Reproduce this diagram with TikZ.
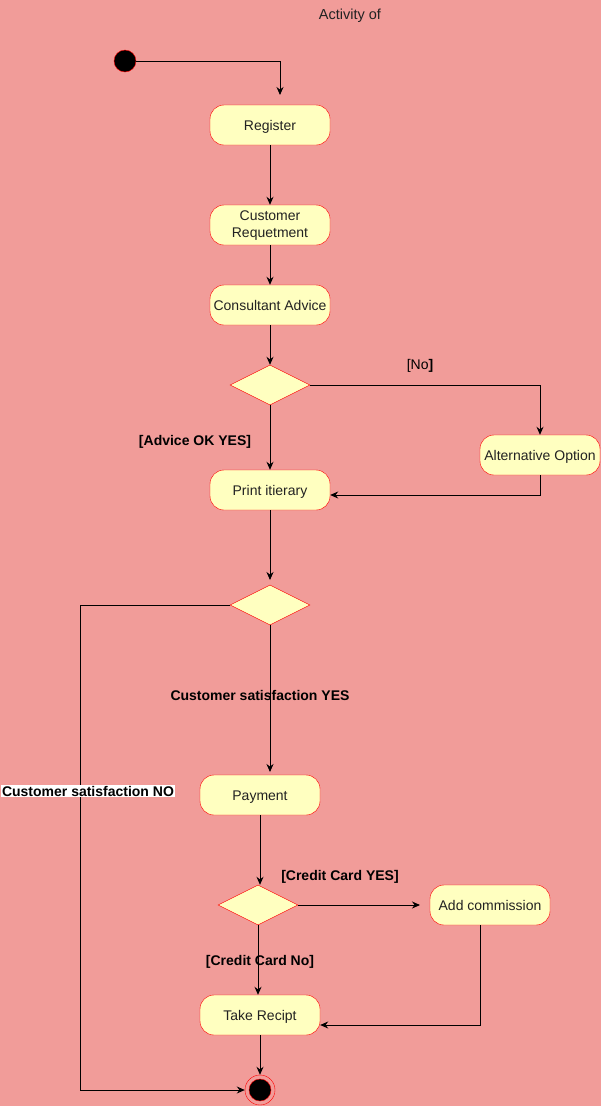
\documentclass[tikz,border=0pt]{standalone}
\usepackage{fontspec}
\setmainfont{Liberation Sans}
\usetikzlibrary{shapes.geometric,arrows.meta,positioning}
\definecolor{bgc}{HTML}{F19C99}
\definecolor{boxfill}{HTML}{FFFFC0}
\definecolor{txt}{HTML}{222222}
\begin{document}
\begin{tikzpicture}[x=1pt,y=-1pt,
  act/.style={rectangle,rounded corners=14pt,draw=red,fill=boxfill,minimum width=120pt,minimum height=40pt,inner sep=0pt,font=\fontsize{14}{17}\selectfont,text=txt,align=center},
  oneline/.style={text height=11pt,text depth=1pt},
  dec/.style={diamond,draw=red,fill=boxfill,minimum width=80pt,minimum height=40pt,inner sep=0pt,aspect=2},
  flow/.style={draw=black,line width=0.9pt,-{Stealth[length=8pt,width=7pt]}},
  lbl/.style={font=\bfseries\fontsize{14}{16}\selectfont,text=black,inner sep=1pt}]
\fill[bgc] (0,0) rectangle (601,1106);
\useasboundingbox (0,0) rectangle (601,1106);
\node[text=txt,font=\fontsize{14.5}{16}\selectfont] (title) at (350,16) {Activity of};
\node[circle,draw=red,fill=black,minimum size=22pt,inner sep=0pt] (start) at (125,61) {};
\node[act,oneline] (reg) at (270,125) {Register};
\node[act] (creq) at (270,225) {\rule{0pt}{11pt}Customer\\Requetment};
\node[act,oneline] (cadv) at (270,305) {Consultant Advice};
\node[dec] (d1) at (270,385) {};
\node[act,oneline] (alt) at (540,455) {Alternative Option};
\node[act,oneline] (print) at (270,490) {Print itierary};
\node[dec] (d2) at (270,605) {};
\node[act,oneline] (pay) at (260,795) {Payment};
\node[dec] (d3) at (258,905) {};
\node[act,oneline] (comm) at (490,905) {Add commission};
\node[act,oneline] (take) at (260,1015) {Take Recipt};
\node[circle,draw=red,fill=none,minimum size=30pt,inner sep=0pt] (endo) at (260,1090) {};
\node[circle,draw=red,fill=black,minimum size=22pt,inner sep=0pt] (endi) at (260,1090) {};
\coordinate (a0) at (280,95);
\draw[flow] (start.east) -| (a0);
\draw[flow] (reg.south) -- (creq.north);
\draw[flow] (creq.south) -- (cadv.north);
\draw[flow] (cadv.south) -- (d1.north);
\draw[flow] (d1.east) -| (alt.north);
\draw[flow] (d1.south) -- (print.north);
\draw[flow] (alt.south) |- (print.east |- 0,495);
\coordinate (a2) at (270,580);
\draw[flow] (print.south) -- (a2);
\coordinate (a3) at (270,772);
\draw[flow] (d2.south) -- (a3);
\coordinate (nl) at (80,605);
\draw[flow] (d2.west) -- (nl) |- (endo.west);
\draw[flow] (pay.south) -- (d3.north -| pay.south);
\coordinate (a4) at (420,905);
\draw[flow] (d3.east) -- (a4);
\draw[flow] (d3.south) -- (take.north -| d3.south);
\draw[flow] (comm.south -| 480,0) |- (take.east |- 0,1025);
\draw[flow] (take.south) -- (endo.north);
\node[lbl] (lno) at (420,366) {\mdseries [No\textbf{]}};
\node[lbl] (lyes) at (195,441.5) {[Advice OK YES]};
\node[lbl] (lcsy) at (260,695.5) {Customer satisfaction YES};
\node[lbl,fill=white] (lcsn) at (88,791) {Customer satisfaction NO};
\node[lbl] (lccy) at (340,876.5) {[Credit Card YES]};
\node[lbl] (lccn) at (260,961.5) {[Credit Card No]};
\end{tikzpicture}
\end{document}
